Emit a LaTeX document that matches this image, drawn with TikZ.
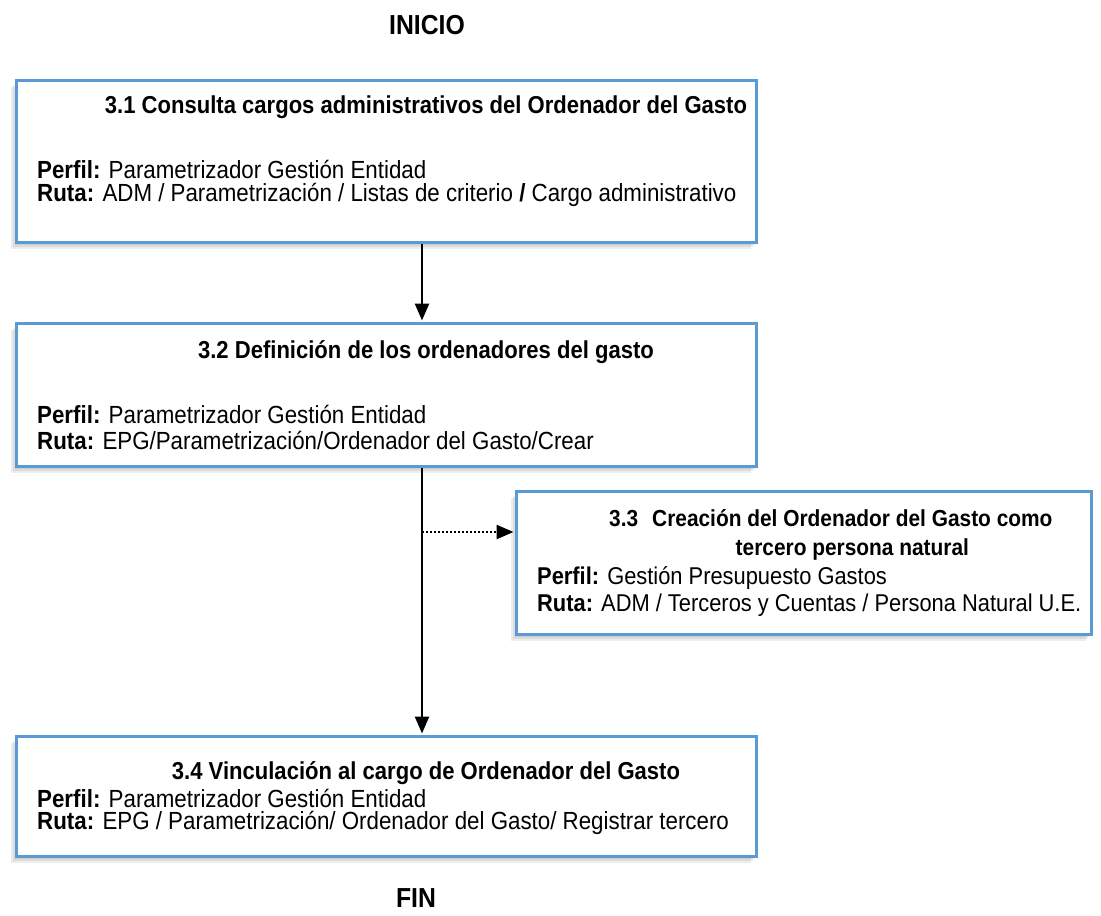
\documentclass[tikz,border=0pt]{standalone}
\usepackage{fontspec}
\setmainfont{Liberation Sans}[FakeStretch=0.9]
\usetikzlibrary{arrows.meta,shadows}
\definecolor{boxblue}{HTML}{5B9BD5}
\begin{document}
\begin{tikzpicture}[x=1pt,y=-1pt,
  stepbox/.style={draw=boxblue, line width=3pt, fill=white, inner sep=0pt, anchor=north west,
    general shadow={fill=black, opacity=0.07, shadow xshift=-2pt, shadow yshift=-2pt},
    general shadow={fill=black, opacity=0.07, shadow xshift=-4pt, shadow yshift=-4pt},
    general shadow={fill=black, opacity=0.07, shadow xshift=-6pt, shadow yshift=-6pt}},
  endlbl/.style={font=\fontsize{27.5}{32}\selectfont\bfseries, inner sep=0pt},
  ttl/.style={font=\fontsize{24.5}{28}\selectfont\bfseries, inner sep=0pt},
  ttlb/.style={font=\fontsize{23.2}{28}\selectfont\bfseries, inner sep=0pt},
  txt/.style={font=\fontsize{24.8}{28}\selectfont, inner sep=0pt, anchor=west},
  txtb/.style={font=\fontsize{24.3}{28}\selectfont, inner sep=0pt, anchor=west},
  flow/.style={line width=2.5pt, -{Triangle[width=14pt,length=17pt]}, shorten >=1.5pt},
  dflow/.style={line width=2.5pt, dash pattern=on 2pt off 2pt, -{Triangle[width=14pt,length=17pt]}, shorten >=1.5pt}
]
\path[use as bounding box] (0,0) rectangle (1101,916);

\node[endlbl] (inicio) at (427,25) {INICIO};

\node[stepbox, minimum width=740pt, minimum height=162pt] (b1) at (15,79) {};
\node[ttl] (t1) at (426,107) {3.1 Consulta cargos administrativos del Ordenador del Gasto};
\node[txt] (p1) at (37,169) {\textbf{Perfil:} Parametrizador Gestión Entidad};
\node[txt] (r1) at (37,195) {\textbf{Ruta:} ADM / Parametrización / Listas de criterio \textbf{/} Cargo administrativo};

\node[stepbox, minimum width=740pt, minimum height=143pt] (b2) at (15,322) {};
\node[ttl] (t2) at (426,352) {3.2 Definición de los ordenadores del gasto};
\node[txt] (p2) at (37,414) {\textbf{Perfil:} Parametrizador Gestión Entidad};
\node[txt] (r2) at (37,440) {\textbf{Ruta:} EPG/Parametrización/Ordenador del Gasto/Crear};

\node[stepbox, minimum width=575pt, minimum height=143pt] (b3) at (515,490) {};
\node[ttlb, anchor=base west] (n3) at (609,526) {3.3};
\node[ttlb, anchor=base west] (t3a) at (652,526) {Creación del Ordenador del Gasto como};
\node[ttlb, anchor=base] (t3b) at (t3a.base |- 0,555) {tercero persona natural};
\node[txtb] (p3) at (537,578) {\textbf{Perfil:} Gestión Presupuesto Gastos};
\node[txtb] (r3) at (537,605) {\textbf{Ruta:} ADM / Terceros y Cuentas / Persona Natural U.E.};

\node[stepbox, minimum width=740pt, minimum height=120pt] (b4) at (15,735) {};
\node[ttl] (t4) at (426,773) {3.4 Vinculación al cargo de Ordenador del Gasto};
\node[txt] (p4) at (37,798) {\textbf{Perfil:} Parametrizador Gestión Entidad};
\node[txt] (r4) at (37,823) {\textbf{Ruta:} EPG / Parametrización/ Ordenador del Gasto/ Registrar tercero};

\node[endlbl] (fin) at (416,898) {FIN};

\coordinate (ax) at (422,0);
\coordinate (d0) at (422,532);
\draw[flow] (b1.south -| ax) -- (b2.north -| ax);
\draw[flow] (b2.south -| ax) -- (b4.north -| ax);
\draw[dflow] (d0) -- (d0 -| b3.west);
\end{tikzpicture}
\end{document}
